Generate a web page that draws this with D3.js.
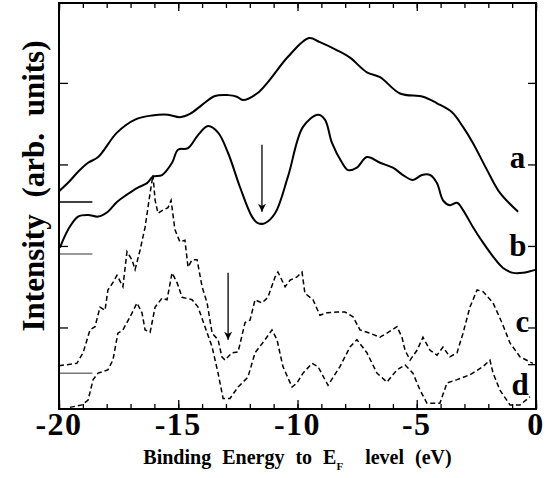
<!DOCTYPE html>
<html lang="en">
<head>
<meta charset="UTF-8">
<title>spectra</title>
<style>
  body{margin:0;background:#fff;}
  svg{display:block;}
  text{font-family:"Liberation Serif","Times New Roman",serif;font-weight:bold;fill:#000;}
</style>
</head>
<body>
<svg width="551" height="478"></svg>
<script src="https://cdnjs.cloudflare.com/ajax/libs/d3/7.8.5/d3.min.js"></script>
<script>
// curve a (solid)
var energyA=[-20.00,-19.54,-19.20,-18.78,-18.36,-17.57,-16.81,-16.10,-15.43,-14.93,-14.51,-14.00,-13.46,-12.91,-12.54,-12.29,-11.70,-11.24,-10.40,-9.52,-9.06,-8.34,-7.80,-7.09,-6.54,-5.70,-4.74,-4.15,-3.52,-3.06,-2.64,-2.05,-1.51,-0.75];
var intensityA=[2.67,2.80,2.91,3.02,3.09,3.39,3.55,3.60,3.61,3.58,3.62,3.73,3.84,3.85,3.83,3.79,3.87,4.01,4.32,4.55,4.50,4.40,4.31,4.13,4.07,3.87,3.83,3.75,3.64,3.46,3.26,2.93,2.65,2.42];
// curve b (solid)
var energyB=[-19.96,-19.62,-19.20,-18.78,-18.36,-17.95,-17.57,-17.15,-16.73,-16.31,-16.06,-15.68,-15.26,-15.01,-14.59,-14.17,-13.75,-13.33,-12.91,-12.41,-11.91,-11.66,-11.36,-10.94,-10.40,-9.77,-9.14,-8.85,-8.55,-8.13,-7.88,-7.51,-7.09,-6.54,-6.00,-5.58,-5.16,-4.78,-4.44,-4.15,-3.90,-3.61,-3.31,-3.06,-2.64,-2.22,-1.80,-1.38,-0.96,-0.55,-0.25,0.00];
var intensityB=[1.98,2.20,2.36,2.38,2.36,2.42,2.54,2.63,2.71,2.77,2.85,2.87,3.02,3.18,3.20,3.36,3.47,3.39,3.14,2.72,2.36,2.28,2.28,2.40,2.85,3.46,3.61,3.55,3.26,3.02,2.93,2.96,3.09,3.02,2.96,2.87,2.81,2.87,2.87,2.77,2.56,2.50,2.53,2.44,2.23,2.04,1.87,1.73,1.67,1.67,1.69,1.71];
// curve c (dashed)
var energyC=[-20.00,-19.25,-18.99,-18.70,-18.49,-18.28,-18.07,-17.95,-17.74,-17.57,-17.32,-17.15,-16.94,-16.81,-16.60,-16.39,-16.18,-16.06,-15.97,-15.85,-15.64,-15.43,-15.30,-15.14,-14.93,-14.72,-14.59,-14.42,-14.21,-14.00,-13.79,-13.58,-13.33,-13.17,-13.04,-12.75,-12.49,-12.20,-11.99,-11.78,-11.49,-11.24,-10.94,-10.82,-10.52,-10.31,-10.02,-9.81,-9.69,-9.35,-9.06,-8.76,-8.34,-8.01,-7.67,-7.38,-6.96,-6.54,-6.25,-5.83,-5.62,-5.49,-5.28,-4.99,-4.74,-4.44,-4.15,-3.90,-3.61,-3.31,-3.06,-2.77,-2.47,-2.22,-1.80,-1.43,-1.09,-0.67,-0.13];
var intensityC=[0.53,0.56,0.69,0.97,1.01,1.25,1.21,1.46,1.55,1.64,1.50,1.93,1.83,1.71,1.95,2.23,2.65,2.87,2.56,2.40,2.44,2.47,2.56,2.20,2.05,2.07,1.74,1.83,1.83,1.50,1.30,0.93,0.85,0.64,0.60,0.69,0.70,1.06,1.09,1.34,1.30,1.37,1.62,1.68,1.50,1.58,1.62,1.68,1.42,1.34,1.15,1.18,1.19,1.19,1.13,0.97,0.93,0.88,0.93,1.01,0.88,0.72,0.60,0.72,0.88,0.72,0.66,0.76,0.64,0.69,0.93,1.25,1.46,1.44,1.30,1.06,0.81,0.64,0.56];
// curve d (dashed)
var energyD=[-19.54,-19.04,-18.78,-18.57,-18.36,-17.95,-17.74,-17.53,-17.32,-17.02,-16.73,-16.52,-16.39,-16.18,-15.97,-15.68,-15.47,-15.26,-15.05,-14.84,-14.42,-14.17,-13.88,-13.58,-13.33,-13.12,-12.83,-12.49,-12.08,-11.78,-11.36,-11.07,-10.86,-10.61,-10.23,-10.02,-9.77,-9.39,-9.14,-8.72,-8.22,-7.80,-7.51,-7.09,-6.67,-6.25,-5.83,-5.49,-5.16,-4.86,-4.57,-4.03,-3.73,-3.31,-2.77,-2.22,-1.93,-1.80,-1.51,-1.09,-0.67,-0.25];
var intensityD=[0.02,0.05,0.11,0.36,0.44,0.48,0.60,0.93,0.97,1.13,1.30,1.18,0.97,0.94,1.25,1.36,1.34,1.67,1.55,1.37,1.34,1.25,1.01,0.76,0.44,0.13,0.13,0.27,0.39,0.69,0.85,0.97,0.85,0.52,0.27,0.32,0.44,0.56,0.52,0.29,0.52,0.76,0.85,0.69,0.44,0.33,0.48,0.54,0.44,0.23,0.07,0.07,0.32,0.36,0.42,0.52,0.60,0.44,0.23,0.05,0.05,0.15];

var xTickLabels=[-20,-15,-10,-5,0];
var yTicksLeft=[1,2,3,4];
var yTicksRight=[0.55,1,2,3,4];
var baselineY=[2.54,1.90,0.44];
var baselineColor=["#000","#777","#777"];
var arrowE=[-11.49,-12.91];
var arrowFrom=[3.24,1.67];
var arrowTo=[2.42,0.85];
var curveNames=["a","b","c","d"];
var nameE=[-0.45,-0.4,-0.28,-0.3];
var nameY=[2.96,1.88,0.94,0.17];

drawChart();

function drawChart(){
  var svg=d3.select("svg");
  var pLeft=59,pRight=536,pTop=3,pBottom=409;

  var x=d3.scaleLinear().domain([-20,0]).range([pLeft,pRight]);
  var y=d3.scaleLinear().domain([0,4.98]).range([pBottom,pTop]);

  function pts(e,v){return e.map(function(d,i){return [d,v[i]];});}

  var smooth=d3.line().x(function(d){return x(d[0]);}).y(function(d){return y(d[1]);}).curve(d3.curveCatmullRom.alpha(0.5));
  var jag=d3.line().x(function(d){return x(d[0]);}).y(function(d){return y(d[1]);});

  // baseline markers on the left
  svg.selectAll(".base").data(baselineY).enter().append("line")
    .attr("x1",x(-20)).attr("x2",x(-18.6))
    .attr("y1",function(d){return y(d);}).attr("y2",function(d){return y(d);})
    .attr("stroke",function(d,i){return baselineColor[i];}).attr("stroke-width",1.5);

  svg.append("path").attr("d",smooth(pts(energyA,intensityA))).attr("fill","none").attr("stroke","#000").attr("stroke-width",2);
  svg.append("path").attr("d",smooth(pts(energyB,intensityB))).attr("fill","none").attr("stroke","#000").attr("stroke-width",2);
  svg.append("path").attr("d",jag(pts(energyC,intensityC))).attr("fill","none").attr("stroke","#000").attr("stroke-width",1.5).attr("stroke-dasharray","5,3");
  svg.append("path").attr("d",jag(pts(energyD,intensityD))).attr("fill","none").attr("stroke","#000").attr("stroke-width",1.5).attr("stroke-dasharray","5,3");

  // arrows
  svg.append("defs").append("marker").attr("id","head")
    .attr("viewBox","0 0 10 10").attr("refX",10).attr("refY",5)
    .attr("markerWidth",14).attr("markerHeight",8).attr("markerUnits","userSpaceOnUse")
    .attr("orient","auto")
    .append("path").attr("d","M0,0L10,5L0,10L3,5Z").attr("fill","#000");
  svg.selectAll(".arrow").data(arrowE).enter().append("line")
    .attr("x1",function(d){return x(d);}).attr("x2",function(d){return x(d);})
    .attr("y1",function(d,i){return y(arrowFrom[i]);}).attr("y2",function(d,i){return y(arrowTo[i]);})
    .attr("stroke","#000").attr("stroke-width",1.3).attr("marker-end","url(#head)");

  // frame with inward ticks
  var minor=d3.range(-20,1,1);
  svg.append("g").attr("transform","translate(0,"+pBottom+")")
    .call(d3.axisBottom(x).tickValues(minor).tickSize(-5).tickFormat(""));
  svg.append("g").attr("transform","translate(0,"+pBottom+")")
    .call(d3.axisBottom(x).tickValues(xTickLabels).tickSize(-9).tickFormat(""));
  svg.append("g").attr("transform","translate(0,"+pTop+")")
    .call(d3.axisTop(x).tickValues(minor).tickSize(-5).tickFormat(""));
  svg.append("g").attr("transform","translate(0,"+pTop+")")
    .call(d3.axisTop(x).tickValues(xTickLabels).tickSize(-8).tickFormat(""));
  svg.append("g").attr("transform","translate("+pLeft+",0)")
    .call(d3.axisLeft(y).tickValues(yTicksLeft).tickSize(-9).tickFormat(""));
  svg.append("g").attr("transform","translate("+pRight+",0)")
    .call(d3.axisRight(y).tickValues(yTicksRight).tickSize(-8).tickFormat(""));
  svg.selectAll(".domain").remove();
  svg.selectAll(".tick line").attr("stroke","#000").attr("stroke-width",1.3);
  svg.append("rect").attr("x",pLeft).attr("y",pTop).attr("width",pRight-pLeft).attr("height",pBottom-pTop)
    .attr("fill","none").attr("stroke","#000").attr("stroke-width",2);

  // x tick labels
  svg.selectAll(".xl").data(xTickLabels).enter().append("text")
    .attr("x",function(d){return x(d);}).attr("y",pBottom+26)
    .attr("text-anchor","middle").style("font-size","32px").style("letter-spacing","1.5px")
    .text(function(d){return d;});

  // curve names
  svg.selectAll(".nm").data(curveNames).enter().append("text")
    .attr("x",function(d,i){return x(nameE[i]);}).attr("y",function(d,i){return y(nameY[i]);})
    .attr("text-anchor","end").style("font-size","31px")
    .text(function(d){return d;});

  // axis titles
  var xt=svg.append("text").attr("x",(pLeft+pRight)/2).attr("y",464)
    .attr("text-anchor","middle").style("font-size","20px").style("word-spacing","6px");
  xt.append("tspan").text("Binding Energy to E");
  xt.append("tspan").attr("dy",6).style("font-size","11px").text("F");
  xt.append("tspan").attr("dy",-6).text("\u00a0 level (eV)");

  svg.append("text").attr("transform","translate(44,186) rotate(-90)")
    .attr("text-anchor","middle").style("font-size","31px").style("word-spacing","9px")
    .text("Intensity (arb. units)");
}
</script>
</body>
</html>
